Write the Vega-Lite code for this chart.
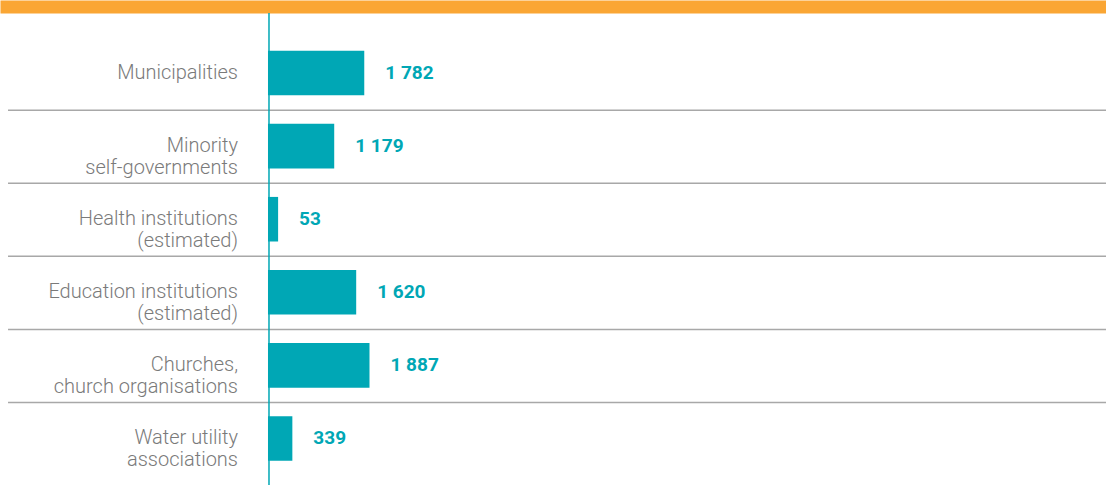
{
  "$schema": "https://vega.github.io/schema/vega-lite/v6.json",
  "width": 1106,
  "height": 472,
  "autosize": {"type": "none"},
  "padding": {"left": 0, "right": 0, "top": 13, "bottom": 0},
  "background": "white",
  "config": {
    "view": {"stroke": null},
    "locale": {"number": {"decimal": ".", "thousands": " ", "grouping": [3], "currency": ["", ""]}}
  },
  "data": {
    "values": [
      {"cat": "Municipalities", "value": 1782},
      {"cat": "Minority\nself-governments", "value": 1179},
      {"cat": "Health institutions\n(estimated)", "value": 53},
      {"cat": "Education institutions\n(estimated)", "value": 1620},
      {"cat": "Churches,\nchurch organisations", "value": 1887},
      {"cat": "Water utility\nassociations", "value": 339}
    ]
  },
  "layer": [
    {
      "mark": {"type": "bar", "color": "#00A7B5"},
      "encoding": {
        "y": {"field": "cat", "type": "nominal", "sort": null, "axis": null,
              "scale": {"range": [23.5, 462], "paddingInner": 0.39, "paddingOuter": 0.195}},
        "x": {"field": "value", "type": "quantitative",
              "scale": {"domain": [-5528, 16667], "nice": false, "zero": false},
              "axis": {"orient": "top", "domain": true, "domainColor": "#FAA634", "domainWidth": 13,
                       "offset": 6.5, "labels": false, "ticks": false, "grid": false, "title": null}},
        "x2": {"datum": -150}
      }
    },
    {
      "transform": [{"filter": "datum.cat !== 'Municipalities'"}],
      "mark": {"type": "rule", "color": "#A8A8A8", "strokeWidth": 1.5, "yOffset": -36},
      "encoding": {
        "y": {"field": "cat", "type": "nominal", "sort": null},
        "x": {"datum": -5367},
        "x2": {"datum": 16667}
      }
    },
    {
      "mark": {"type": "text", "align": "right", "baseline": "middle", "dx": -30, "lineBreak": "\n",
               "fontSize": 20, "font": "Roboto", "fontWeight": 300, "color": "#7A7A7A", "lineHeight": 22},
      "encoding": {
        "y": {"field": "cat", "type": "nominal", "sort": null},
        "x": {"datum": -150},
        "text": {"field": "cat"}
      }
    },
    {
      "mark": {"type": "text", "align": "left", "baseline": "middle", "dx": 21,
               "fontSize": 19, "font": "Roboto", "fontWeight": "bold", "color": "#00A7B5"},
      "encoding": {
        "y": {"field": "cat", "type": "nominal", "sort": null},
        "x": {"field": "value", "type": "quantitative"},
        "text": {"field": "value", "type": "quantitative", "format": ",d"}
      }
    },
    {
      "data": {"values": [{}]},
      "mark": {"type": "rule", "color": "#00A7B5", "strokeWidth": 1.5, "xOffset": 1},
      "encoding": {"x": {"datum": -150}}
    }
  ]
}
